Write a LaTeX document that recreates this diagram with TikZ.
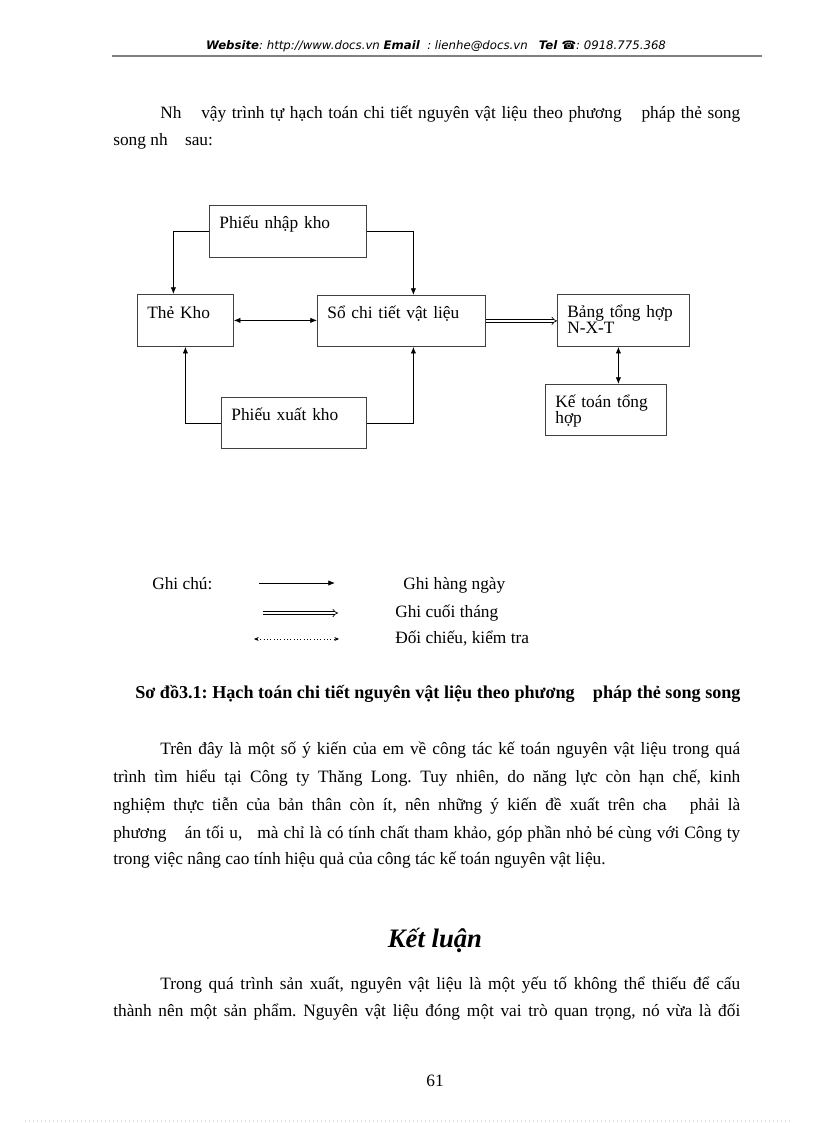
\documentclass[tikz,border=0pt]{standalone}
\usepackage{fontspec}
\setmainfont{Liberation Serif}
\newfontfamily\hdrfont{DejaVu Sans}
\newfontfamily\chafont{Liberation Sans}
\usetikzlibrary{arrows.meta,positioning}
\frenchspacing

\begin{document}
\begin{tikzpicture}[x=0.75pt,y=-0.75pt,
  box/.style={draw=black!75, line width=0.6pt, anchor=north west, inner xsep=7.5pt, inner ysep=0pt, align=left, font=\fontsize{13}{12}\selectfont},
  txt/.style={anchor=base west, inner sep=0pt, font=\fontsize{13}{16}\selectfont},
  link/.style={line width=0.6pt, -{Latex[length=5pt,width=4pt]}},
  both/.style={line width=0.6pt, {Latex[length=5pt,width=4pt]}-{Latex[length=5pt,width=4pt]}},
  twice/.style={double, double distance=1.6pt, line width=0.5pt, -{Implies}},
  check/.style={dotted, line width=0.5pt, {Stealth[length=3.5pt,width=3pt]}-{Stealth[length=3.5pt,width=3pt]}}]
  \fill[white] (0,0) rectangle (816,1123);
  \useasboundingbox (0,0) rectangle (816,1123);

  % header
  \node[anchor=base, inner sep=0pt, font=\hdrfont\fontsize{8.8}{10}\selectfont\itshape] (hdr) at (436,50)
    {{\bfseries Website}: http://www.docs.vn {\bfseries Email}\ \ : lienhe@docs.vn\ \ \ {\bfseries Tel ☎}: 0918.775.368};
  \draw[gray, line width=0.8pt] (112,56) -- (762,56);

  \node[txt] (p1a) at (160,119) {\makebox[435pt][s]{Nh \hspace{.5em} vậy trình tự hạch toán chi tiết nguyên vật liệu theo phương \hspace{.5em} pháp thẻ song}};
  \node[txt] (p1b) at (113,146) {song nh \hspace{.5em} sau:};

  % boxes
  \node[box, text width=102.75pt, text height=17.5pt, text depth=21.5pt] (pnk) at (209,205) {Phiếu nhập kho};
  \node[box, text width=57pt, text height=18pt, text depth=21pt] (tk) at (137,294) {Thẻ Kho};
  \node[box, text width=111pt, text height=17.25pt, text depth=21pt] (sct) at (317,295) {Sổ chi tiết vật liệu};
  \node[box, text width=84pt, text height=17.25pt, text depth=21.75pt] (bth) at (557,294) {Bảng tổng hợp\\N-X-T};
  \node[box, text width=75.75pt, text height=17pt, text depth=21.25pt] (ktth) at (545,384) {Kế toán tổng\\hợp};
  \node[box, text width=93.75pt, text height=17.25pt, text depth=21pt] (pxk) at (221,397) {Phiếu xuất kho};

  \draw[link] (pnk.west) -| ([xshift=-9pt]tk.north);
  \draw[link] (pnk.east) -| ([xshift=9pt]sct.north);
  \draw[link] (pxk.west) -| (tk.south);
  \draw[link] (pxk.east) -| ([xshift=9pt]sct.south);
  \draw[both] (tk.east) -- (tk.east -| sct.west);
  \draw[twice] (sct.east) -- (sct.east -| bth.west);
  \draw[both] ([xshift=-3.75pt]bth.south) -- ([xshift=-3.75pt]bth.south |- ktth.north);

  % legend
  \node[txt] (gc) at (152,589) {Ghi chú:};
  \coordinate (g1a) at (259,583);
  \coordinate (g1b) at (335,583);
  \coordinate (g2a) at (263,613);
  \coordinate (g2b) at (338,613);
  \coordinate (g3a) at (254,639);
  \coordinate (g3b) at (339,639);
  \draw[link] (g1a) -- (g1b);
  \draw[twice] (g2a) -- (g2b);
  \draw[check] (g3a) -- (g3b);
  \node[txt] (ghn) at (403,589) {Ghi hàng ngày};
  \node[txt] (gct) at (395,617) {Ghi cuối tháng};
  \node[txt] (dckt) at (395,643) {Đối chiếu, kiểm tra};

  \node[txt, font=\fontsize{13.6}{16}\selectfont\bfseries] (cap) at (135,698)
    {Sơ đồ3.1: Hạch toán chi tiết nguyên vật liệu theo phương \hspace{.5em} pháp thẻ song song};

  \node[txt] (q1) at (160,754) {\makebox[435pt][s]{Trên đây là một số ý kiến của em về công tác kế toán nguyên vật liệu trong quá}};
  \node[txt] (q2) at (113,782) {\makebox[470.25pt][s]{trình tìm hiểu tại Công ty Thăng Long. Tuy nhiên, do năng lực còn hạn chế, kinh}};
  \node[txt] (q3) at (113,810) {\makebox[470.25pt][s]{nghiệm thực tiễn của bản thân còn ít, nên những ý kiến đề xuất trên {\chafont\fontsize{11}{12}\selectfont cha} \hspace{.4em} phải là}};
  \node[txt] (q4) at (113,838) {\makebox[470.25pt][s]{phương \hspace{.5em} án tối u, \hspace{.3em} mà chỉ là có tính chất tham khảo, góp phần nhỏ bé cùng với Công ty}};
  \node[txt] (q5) at (113,864) {trong việc nâng cao tính hiệu quả của công tác kế toán nguyên vật liệu.};

  \node[anchor=base, inner sep=0pt, font=\fontsize{20}{24}\selectfont\bfseries\itshape] (kl) at (435,947) {Kết luận};

  \node[txt] (r1) at (160,989) {\makebox[435pt][s]{Trong quá trình sản xuất, nguyên vật liệu là một yếu tố không thể thiếu để cấu}};
  \node[txt] (r2) at (113,1016) {\makebox[470.25pt][s]{thành nên một sản phẩm. Nguyên vật liệu đóng một vai trò quan trọng, nó vừa là đối}};

  \node[anchor=base, inner sep=0pt, font=\fontsize{13}{16}\selectfont] (pg) at (435,1086) {61};
  \draw[green!30, dotted, line width=1pt] (25,1121) -- (791,1121);
\end{tikzpicture}
\end{document}
